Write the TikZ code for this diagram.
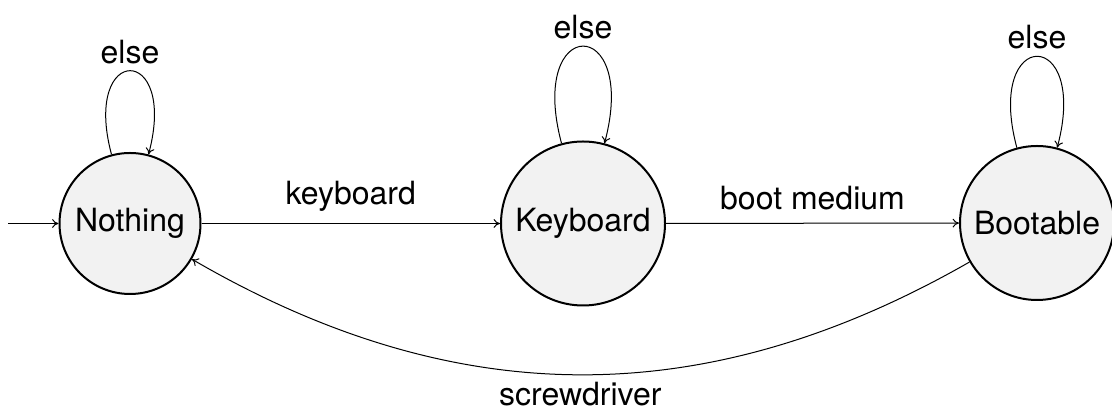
\documentclass[tikz,border=0pt]{standalone}
\usepackage{fontspec}
\setmainfont{TeX Gyre Heros}
\usetikzlibrary{arrows.meta}
\begin{document}
\begin{tikzpicture}[x=0.5pt,y=0.5pt,
  font=\fontsize{16}{19}\selectfont,
  >={To[length=3.2pt,width=4.4pt]},
  state/.style={circle, draw, line width=1pt, fill=gray!10, inner sep=0pt},
  trans/.style={->, line width=0.5pt}]
\useasboundingbox (0,0) rectangle (1112,416);
\node[state, minimum size=70.5pt] (N) at (130,192.5) {Nothing};
\node[state, minimum size=82pt] (K) at (583,192.5) {Keyboard};
\node[state, minimum size=77pt] (B) at (1037,193) {Bootable};
\coordinate (init) at (8,192.5);
\draw[trans] (init) -- (N);
\draw[trans] (N) -- node[midway, anchor=base, yshift=9.25pt] {keyboard} (K);
\draw[trans] (K) -- node[midway, anchor=base, yshift=6.75pt] {boot medium} (B);
\draw[trans] (B) to[bend left] node[midway, below] {screwdriver} (N);
\draw[trans] (N) to[loop above] node[above] {else} (N);
\draw[trans] (K) to[loop above] node[above] {else} (K);
\draw[trans] (B) to[loop above] node[above] {else} (B);
\end{tikzpicture}
\end{document}
